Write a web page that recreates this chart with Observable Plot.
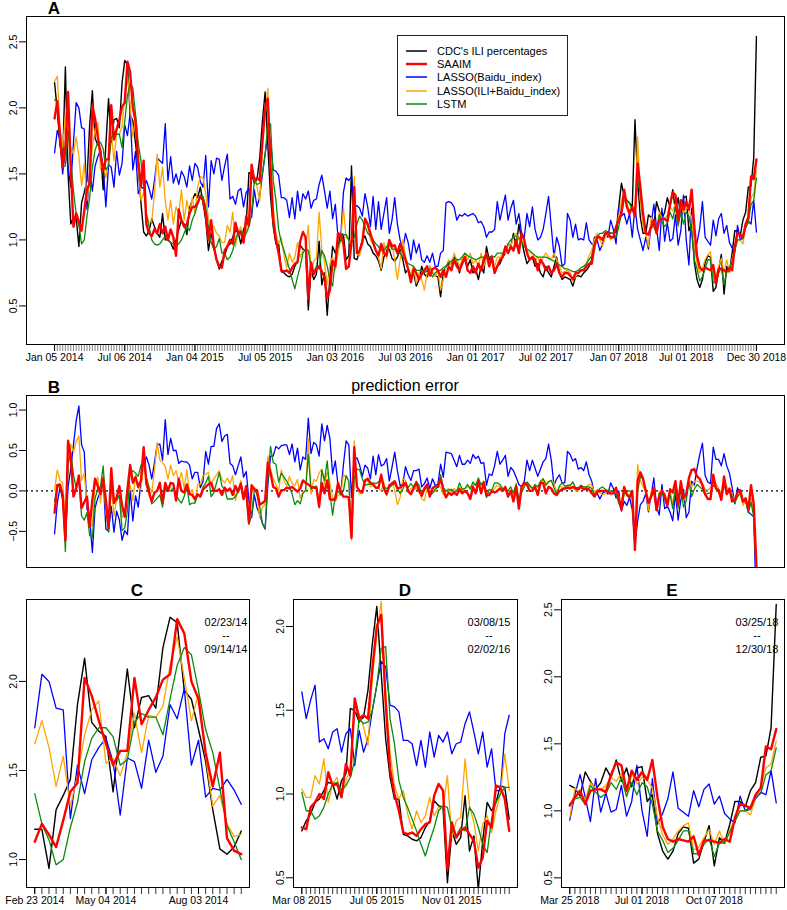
<!DOCTYPE html>
<html><head><meta charset="utf-8">
<script src="https://cdn.jsdelivr.net/npm/d3@7"></script>
<script src="https://cdn.jsdelivr.net/npm/@observablehq/plot@0.6"></script>
<style>
body{margin:0;background:#fff;font-family:"Liberation Sans",Arial,Helvetica,sans-serif;}
#wrap{position:relative;width:787px;height:910px;overflow:hidden;background:#fff;}
.p{position:absolute;}
.lab{position:absolute;transform:translate(-50%,-50%);white-space:nowrap;color:#000;line-height:1;}
.ttl{font-weight:bold;font-size:17px;}
.note{font-size:11px;text-align:center;}
#legend{position:absolute;left:397px;top:35px;width:169px;height:79px;border:1.3px solid #222;background:#fff;font-size:11px;}
#legend .it{position:absolute;left:8px;height:13px;display:flex;align-items:center;}
#legend .it span{margin-left:10px;}
</style></head><body><div id="wrap"></div>
<script>
// ---------- data (weekly, starting Sunday 2014-01-05, 261 weeks) ----------
const startDate = "2014-01-05";
const seriesNames = ["CDC's ILI percentages", "SAAIM", "LASSO(Baidu_index)", "LASSO(ILI+Baidu_index)", "LSTM"];
const seriesColors = ["#000000", "#ff0000", "#0000ff", "#ffa500", "#0b8b0b"];

const ili = [
 2.19,1.98,1.72,1.60,2.31,1.50,1.12,
 1.17,1.17,0.95,1.28,1.36,1.45,1.87,2.13,1.77,1.72,1.69,1.38,1.72,2.07,1.74,1.91,1.92,1.85,2.19,2.36,2.33,1.95,1.90,1.73,1.55,1.28,1.06,1.03,1.07,1.16,
 1.10,1.05,1.02,1.20,1.00,1.00,0.98,0.93,1.00,
 1.08,1.15,1.12,1.04,1.24,1.30,1.35,1.32,1.40,1.28,1.15,0.92,1.05,0.95,0.85,
 0.78,0.84,0.88,0.95,0.97,1.02,1.07,1.06,0.97,1.08,1.12,1.51,1.50,1.43,1.46,1.62,1.90,2.12,1.72,1.33,1.10,0.97,0.97,0.76,0.75,0.73,0.72,0.74,0.80,0.84,0.96,0.93,0.92,0.47,0.78,0.70,0.74,0.99,0.66,0.75,0.43,0.72,0.95,0.90,0.95,1.05,1.04,0.85,
 0.88,1.56,0.86,0.85,0.92,1.00,1.03,0.97,0.95,0.90,0.88,0.84,0.77,0.87,0.92,0.93,0.86,0.84,0.87,0.93,0.85,0.75,0.78,0.72,0.75,0.65,0.70,0.80,0.74,0.72,0.80,0.75,0.73,
 0.72,0.57,0.75,0.80,0.82,0.82,0.87,0.85,0.75,0.85,0.87,0.80,0.85,0.75,0.78,0.70,0.80,0.75,0.95,0.85,0.87,0.77,0.80,0.82,0.87,0.90,0.97,0.95,1.05,0.95,1.12,1.00,0.90,0.82,0.85,0.87,0.80,0.82,0.75,0.72,0.80,0.75,0.72,0.80,0.87,0.75,0.70,
 0.72,0.71,0.70,0.65,0.72,0.73,0.72,0.75,0.77,0.80,0.85,1.02,1.03,1.02,1.00,1.05,1.06,1.05,1.05,1.06,1.25,1.43,1.33,1.30,1.28,1.25,1.91,1.45,1.17,1.05,1.05,
 1.19,1.17,1.11,1.29,1.22,1.16,1.21,1.32,1.25,1.38,1.22,1.32,1.18,1.32,1.33,1.07,1.12,0.83,0.70,0.64,0.70,0.83,0.88,0.87,0.61,0.64,0.77,0.89,0.59,0.80,0.76,0.90,1.07,1.07,1.03,1.15,1.21,1.40,1.41,1.62,2.54
];
const saaim = [
 1.92,2.05,1.80,1.55,1.70,2.12,1.55,
 1.10,1.20,1.14,1.07,1.22,1.38,1.43,2.02,1.92,1.78,1.65,1.53,1.61,1.61,2.02,1.76,1.84,1.91,2.01,2.04,2.35,2.27,2.00,1.90,1.60,1.41,1.60,1.12,1.05,1.03,
 1.08,1.05,1.12,1.05,1.10,1.00,1.08,1.02,0.88,
 1.23,1.15,1.10,1.12,1.20,1.25,1.25,1.28,1.33,1.30,1.20,1.00,1.15,0.95,0.85,
 0.80,0.79,0.92,0.95,1.00,0.97,1.13,1.05,1.06,0.98,1.18,1.11,1.57,1.45,1.47,1.45,1.75,2.00,2.07,1.55,1.15,1.00,0.90,0.77,0.76,0.77,0.75,0.79,0.82,0.83,0.99,1.06,1.02,0.55,0.83,0.74,0.78,0.80,0.76,0.72,0.56,0.62,0.84,0.80,1.05,1.04,0.97,0.78,
 0.80,0.98,1.40,0.90,0.92,0.98,1.16,1.12,1.05,0.98,0.92,0.88,0.97,0.90,0.88,1.00,0.95,0.96,0.90,0.97,0.92,0.85,0.78,0.68,0.78,0.75,0.70,0.74,0.77,0.80,0.73,0.78,0.79,
 0.77,0.72,0.77,0.72,0.80,0.77,0.85,0.80,0.77,0.82,0.87,0.77,0.75,0.80,0.75,0.82,0.77,0.85,0.90,0.80,0.87,0.75,0.80,0.85,0.87,0.95,0.90,0.95,0.92,1.00,0.90,1.05,1.00,0.90,0.85,0.87,0.85,0.77,0.85,0.82,0.77,0.80,0.75,0.77,0.82,0.75,0.72,
 0.75,0.75,0.73,0.70,0.75,0.75,0.77,0.77,0.80,0.82,0.82,0.95,1.02,1.02,1.00,1.05,1.05,1.02,1.02,1.10,1.15,1.20,1.38,1.25,1.20,1.25,1.18,1.58,1.40,1.20,1.05,
 1.04,1.10,1.15,1.05,1.15,1.16,1.16,1.14,1.27,1.36,1.34,1.15,1.30,1.23,1.29,1.23,1.38,1.10,0.88,0.79,0.77,0.79,0.78,0.77,0.81,0.67,0.78,0.78,0.77,0.76,0.79,0.77,0.95,1.05,1.04,1.02,1.12,1.17,1.48,1.46,1.61
];
const lassoBaidu = [
 1.66,1.83,1.76,1.50,1.70,1.55,1.40,
 1.74,2.04,2.00,1.85,1.84,1.23,1.53,1.37,1.56,1.63,1.68,1.55,1.25,1.57,1.55,1.40,1.67,1.49,1.58,1.87,1.79,1.96,1.53,1.67,1.35,1.40,1.39,1.45,1.39,1.31,
 1.45,1.62,1.60,1.58,1.88,1.45,1.63,1.43,1.50,
 1.42,1.52,1.48,1.40,1.56,1.45,1.58,1.55,1.44,1.40,1.64,1.25,1.60,1.50,1.62,
 1.61,1.45,1.56,1.65,1.31,1.33,1.27,1.37,1.39,1.25,1.36,1.39,1.17,1.38,1.25,1.33,1.50,1.65,1.79,1.76,1.53,1.52,1.49,1.32,1.32,1.30,1.17,1.32,1.16,1.37,1.22,1.35,1.31,1.37,1.24,1.30,1.31,1.42,1.49,1.37,1.24,1.37,1.16,1.27,1.02,1.02,1.36,1.47,
 1.45,1.48,1.25,1.26,1.24,1.18,1.35,1.25,1.10,1.33,1.08,1.29,1.08,1.20,1.32,1.05,1.15,1.32,1.12,1.00,0.93,1.05,0.98,0.85,1.00,0.90,0.97,0.85,0.83,0.88,0.83,0.90,0.80,
 0.80,0.90,0.92,1.28,1.29,1.28,1.25,1.15,1.19,1.18,1.20,1.18,1.19,1.20,1.18,1.13,1.14,1.10,1.02,1.06,1.06,1.08,1.29,1.15,1.25,1.34,1.15,1.24,1.30,1.12,1.20,1.05,1.02,1.20,1.10,1.25,1.08,1.00,1.02,1.08,1.20,1.33,1.10,0.87,1.02,0.95,0.80,
 0.82,1.20,1.15,1.02,1.12,1.00,1.01,1.00,1.13,1.00,0.97,0.97,1.00,0.92,0.97,1.05,1.02,1.15,1.08,0.97,1.25,1.18,1.20,1.12,1.20,1.02,1.25,1.08,1.00,0.92,1.02,
 0.93,1.12,1.27,1.10,0.92,1.24,0.99,1.13,0.99,1.01,1.19,0.96,1.07,1.34,1.00,0.81,1.24,0.90,0.98,1.09,1.29,1.02,0.99,0.96,1.15,1.03,1.16,1.20,1.05,1.11,0.98,0.94,0.91,1.11,1.00,1.03,1.09,1.14,1.12,1.30,1.06
];
const lassoBoth = [
 2.20,2.24,1.85,1.70,1.95,1.85,1.70,
 1.65,1.78,1.63,1.41,1.58,1.30,1.47,1.70,1.84,1.89,1.54,1.57,1.47,1.60,1.82,1.60,1.81,1.80,1.86,2.09,2.25,2.02,1.78,1.93,1.58,1.30,1.36,1.20,1.13,1.14,
 1.35,1.65,1.40,1.55,1.30,1.15,1.30,1.12,1.25,
 1.20,1.38,1.15,1.30,1.20,1.32,1.20,1.40,1.48,1.47,1.35,1.15,1.12,1.10,1.05,
 1.03,0.98,0.98,1.11,1.06,1.21,0.95,1.06,1.10,0.98,1.08,1.15,1.50,1.48,1.40,1.29,1.70,1.95,2.15,1.60,1.25,1.05,0.97,1.02,0.88,0.79,0.90,0.83,0.87,0.98,0.87,0.92,0.92,1.11,0.74,0.84,0.86,1.21,0.93,0.83,0.66,0.82,0.87,0.77,0.90,1.00,1.24,1.02,
 1.00,0.95,1.48,0.90,0.88,0.98,1.15,1.10,1.00,0.97,0.92,0.87,0.78,0.98,0.86,0.98,0.97,0.85,0.70,0.85,1.00,0.88,0.76,0.75,0.80,0.67,0.75,0.70,0.62,0.75,0.80,0.76,0.72,
 0.77,0.62,0.70,0.80,0.85,0.80,0.90,0.85,0.80,0.85,0.90,0.85,0.90,0.82,0.85,0.80,0.90,0.80,0.87,0.82,0.85,0.80,0.87,0.87,0.90,0.90,0.97,0.95,1.02,1.05,1.00,1.00,0.97,0.92,0.90,0.90,0.85,0.87,0.82,0.87,0.90,0.87,0.85,0.90,0.85,0.80,0.75,
 0.76,0.77,0.75,0.70,0.72,0.75,0.77,0.78,0.82,0.88,0.92,1.00,1.05,1.00,0.95,1.02,1.05,1.00,1.03,1.10,1.18,1.30,1.35,1.28,1.22,1.25,1.20,1.78,1.30,1.10,1.05,
 0.95,1.17,1.13,1.08,1.21,1.17,1.16,1.19,1.25,1.22,1.28,1.10,1.28,1.20,1.25,1.23,1.17,0.95,0.82,0.75,0.79,0.85,0.89,0.91,0.71,0.73,0.80,0.86,0.75,0.85,0.75,0.86,0.93,1.00,1.00,0.97,1.10,1.18,1.32,1.35,1.52
];
const lstm = [
 2.06,2.05,1.76,1.55,1.56,1.83,1.60,
 1.37,1.20,1.11,0.97,1.00,1.18,1.32,1.55,1.68,1.74,1.74,1.69,1.53,1.56,1.77,1.82,1.80,1.80,1.70,1.90,2.09,2.19,2.15,1.95,1.73,1.60,1.40,1.19,1.10,1.00,
 0.97,0.96,0.97,1.00,1.03,1.00,0.98,0.97,0.96,
 0.97,1.00,1.05,1.10,1.07,1.15,1.20,1.27,1.34,1.33,1.25,1.10,0.98,0.93,0.95,
 1.01,0.90,0.90,0.85,0.87,0.92,1.00,1.06,1.07,1.02,1.05,1.10,1.20,1.45,1.42,1.43,1.50,1.65,1.87,1.88,1.45,1.30,1.08,0.98,0.92,0.85,0.78,0.70,0.63,0.72,0.80,0.90,0.93,0.92,0.80,0.75,0.80,0.78,0.92,0.88,0.80,0.70,0.65,0.85,0.95,1.00,1.04,1.04,
 1.00,0.98,1.02,1.12,1.18,1.15,1.10,1.05,1.03,1.00,0.97,0.95,0.92,0.92,0.95,0.97,0.93,0.93,0.90,0.90,0.87,0.85,0.82,0.81,0.80,0.77,0.77,0.76,0.75,0.77,0.75,0.72,0.75,
 0.77,0.77,0.79,0.80,0.83,0.84,0.86,0.85,0.85,0.87,0.90,0.88,0.87,0.86,0.85,0.86,0.87,0.87,0.87,0.87,0.88,0.87,0.90,0.90,0.90,0.92,0.97,1.00,1.02,1.03,1.02,0.98,0.95,0.93,0.92,0.90,0.88,0.87,0.87,0.87,0.87,0.86,0.85,0.84,0.83,0.81,0.80,
 0.78,0.78,0.77,0.76,0.76,0.77,0.79,0.80,0.82,0.85,0.88,0.97,1.02,1.05,1.05,1.07,1.06,1.05,1.05,1.02,1.10,1.20,1.30,1.30,1.28,1.22,1.20,1.45,1.35,1.20,1.05,
 1.05,1.09,1.10,1.05,1.19,1.14,1.10,1.13,1.21,1.16,1.25,1.11,1.21,1.12,1.21,1.18,1.05,0.85,0.78,0.69,0.72,0.78,0.85,0.85,0.68,0.68,0.75,0.79,0.66,0.76,0.76,0.84,0.92,1.00,1.00,1.01,1.10,1.13,1.27,1.30,1.47
];

// axis tick labels (dates) and y ticks
const aTickDates = ["2014-01-05","2014-07-06","2015-01-04","2015-07-05","2016-01-03","2016-07-03","2017-01-01","2017-07-02","2018-01-07","2018-07-01","2018-12-30"];
const cTickDates = ["2014-02-23","2014-05-04","2014-08-03"];
const dTickDates = ["2015-03-08","2015-07-05","2015-11-01"];
const eTickDates = ["2018-03-25","2018-07-01","2018-10-07"];
const aYTicks = [0.5, 1.0, 1.5, 2.0, 2.5];
const bYTicks = [-0.5, 0.0, 0.5, 1.0];
const cYTicks = [1.0, 1.5, 2.0];
const dYTicks = [0.5, 1.0, 1.5, 2.0];
const eYTicks = [0.5, 1.0, 1.5, 2.0, 2.5];
const cNote = ["02/23/14", "--", "09/14/14"];
const dNote = ["03/08/15", "--", "02/02/16"];
const eNote = ["03/25/18", "--", "12/30/18"];

// ---------- build ----------
const series = [ili, saaim, lassoBaidu, lassoBoth, lstm];
series.forEach((s, k) => { if (s.length !== 261) throw new Error("series " + k + " length " + s.length); });
const WEEK = 7 * 864e5;
const t0 = Date.parse(startDate + "T00:00:00Z");
const dates = ili.map((_, i) => new Date(t0 + i * WEEK));
const idxOf = s => Math.round((Date.parse(s + "T00:00:00Z") - t0) / WEEK);
const fmtDate = d3.utcFormat("%b %d %Y");
const fmtY = d3.format(".1f");
const drawOrder = [0, 2, 3, 4, 1];
const lineW = [1.4, 2.4, 1.3, 1.3, 1.3];
const FONT = '"Liberation Sans", Arial, Helvetica, sans-serif';
const wrap = document.getElementById("wrap");

function panel(o) {
  const idx = d3.range(o.i0, o.i1 + 1);
  const x0 = +dates[o.i0], x1 = +dates[o.i1], ext = (x1 - x0) * 0.04;
  const marks = [];
  if (o.zero) marks.push(Plot.ruleY([0], {stroke: "#000", strokeWidth: 1.4, strokeDasharray: "2,3"}));
  for (const s of drawOrder) {
    if (o.errors && s === 0) continue;
    const vals = series[s];
    marks.push(Plot.line(idx, {
      x: i => dates[i],
      y: i => o.errors ? vals[i] - ili[i] : vals[i],
      stroke: seriesColors[s], strokeWidth: lineW[s], clip: true
    }));
  }
  if (o.xLabels) {
    marks.push(Plot.axisX(idx.map(i => dates[i]), {tickSize: 7, tickFormat: () => "", strokeWidth: o.minorW || 0.6}));
    marks.push(Plot.axisX(o.xLabels.map(d => dates[idxOf(d)]), {tickSize: 7, tickFormat: fmtDate, tickPadding: 2, strokeWidth: 1}));
  }
  marks.push(Plot.axisY(o.yTicks, {tickSize: 7, tickFormat: fmtY, tickRotate: -90, tickPadding: 3}));
  marks.push(Plot.frame({stroke: "#000", strokeWidth: 1}));
  const xScale = {type: "utc", domain: [new Date(x0 - ext), new Date(x1 + ext)]};
  if (!o.xLabels) xScale.axis = null;
  const svg = Plot.plot({
    width: o.width, height: o.height,
    marginLeft: o.ml, marginRight: o.mr, marginTop: o.mt, marginBottom: o.mb,
    x: xScale,
    y: {domain: o.yDomain},
    style: {fontSize: "10.5px", fontFamily: FONT, color: "#000", background: "transparent", overflow: "visible"},
    marks
  });
  svg.classList.add("p");
  svg.style.left = o.left + "px";
  svg.style.top = o.top + "px";
  wrap.appendChild(svg);
}

function label(text, x, y, cls, extra) {
  const d = document.createElement("div");
  d.className = "lab " + (cls || "");
  d.textContent = text;
  d.style.left = x + "px"; d.style.top = y + "px";
  if (extra) Object.assign(d.style, extra);
  wrap.appendChild(d);
}

// Panel A
panel({i0: 0, i1: 260, left: 0, top: 0, width: 787, height: 370, ml: 26, mr: 3, mt: 16, mb: 26,
  yDomain: [0.208, 2.692], yTicks: aYTicks, xLabels: aTickDates, minorW: 0.5});
// Panel B (prediction error)
panel({i0: 0, i1: 260, left: 0, top: 380, width: 787, height: 188, ml: 26, mr: 3, mt: 15, mb: 1,
  yDomain: [-0.947, 1.18], yTicks: bYTicks, errors: true, zero: true});
// Panels C, D, E
panel({i0: idxOf(cTickDates[0]), i1: idxOf(cTickDates[0]) + 29, left: 0, top: 580, width: 262, height: 330, ml: 26, mr: 13, mt: 19, mb: 23,
  yDomain: [0.843, 2.46], yTicks: cYTicks, xLabels: cTickDates, minorW: 0.8});
panel({i0: idxOf(dTickDates[0]), i1: idxOf(dTickDates[0]) + 47, left: 262, top: 580, width: 268, height: 330, ml: 31, mr: 13, mt: 19, mb: 23,
  yDomain: [0.442, 2.161], yTicks: dYTicks, xLabels: dTickDates, minorW: 0.8});
panel({i0: idxOf(eTickDates[0]), i1: 260, left: 530, top: 580, width: 257, height: 330, ml: 31, mr: 3, mt: 19, mb: 23,
  yDomain: [0.428, 2.577], yTicks: eYTicks, xLabels: eTickDates, minorW: 0.8});

// titles
label("A", 54, 8, "ttl");
label("B", 54, 387, "ttl");
label("prediction error", 405, 386, "", {fontSize: "16px"});
label("C", 137, 590, "ttl");
label("D", 405, 590, "ttl");
label("E", 672, 590, "ttl");
// period notes
[[cNote, 226], [dNote, 489], [eNote, 757]].forEach(([lines, cx]) => {
  lines.forEach((t, k) => label(t, cx, 622 + k * 13.3, "note"));
});

// legend
const lg = document.createElement("div");
lg.id = "legend";
seriesNames.forEach((name, k) => {
  const it = document.createElement("div");
  it.className = "it";
  it.style.top = (8 + k * 13.4) + "px";
  it.innerHTML = `<svg width="21" height="6"><line x1="0" x2="21" y1="3" y2="3" stroke="${seriesColors[k]}" stroke-width="${k === 1 ? 2.4 : 1.5}"/></svg><span>${name}</span>`;
  lg.appendChild(it);
});
wrap.appendChild(lg);
</script></body></html>
